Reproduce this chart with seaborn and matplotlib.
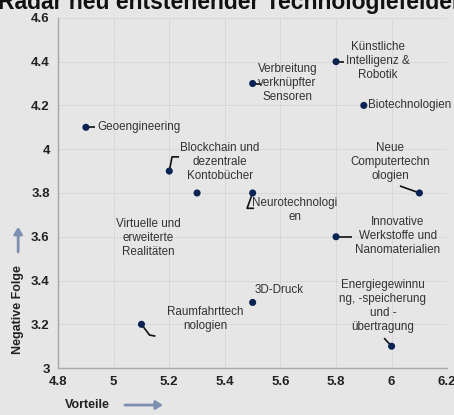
import matplotlib
matplotlib.use("Agg")
import matplotlib.pyplot as plt
import matplotlib.patches as mpatches
import seaborn as sns
import pandas as pd

# Data: technology fields (Vorteile vs. negative Folgen)
names = ["Geoengineering", "Blockchain", "Virtuelle Realitäten", "Neurotechnologien",
         "Sensoren", "KI & Robotik", "Biotechnologien", "Computertechnologien",
         "Werkstoffe", "3D-Druck", "Energie", "Raumfahrt"]
vorteile = [4.9, 5.2, 5.3, 5.5, 5.5, 5.8, 5.9, 6.1, 5.8, 5.5, 6.0, 5.1]
folgen = [4.1, 3.9, 3.8, 3.8, 4.3, 4.4, 4.2, 3.8, 3.6, 3.3, 3.1, 3.2]
labels = ["Geoengineering", "Blockchain und\ndezentrale\nKontobücher",
          "Virtuelle und\nerweiterte\nRealitäten", "Neurotechnologi\nen",
          "Verbreitung\nverknüpfter\nSensoren", "Künstliche\nIntelligenz &\nRobotik",
          "Biotechnologien", "Neue\nComputertechn\nologien",
          "Innovative\nWerkstoffe und\nNanomaterialien", "3D-Druck",
          "Energiegewinnu\nng, -speicherung\nund -\nübertragung",
          "Raumfahrttech\nnologien"]
label_x = [4.94, 5.383, 5.124, 5.652, 5.625, 5.951, 5.916, 5.994, 6.023, 5.595, 5.969, 5.329]
label_y = [4.1, 3.94, 3.594, 3.722, 4.303, 4.403, 4.2, 3.94, 3.603, 3.357, 3.283, 3.224]
label_ha = ["left", "center", "center", "center", "center", "center", "left",
            "center", "center", "center", "center", "center"]
# leader lines (from point to label), None = no leader
leaders = [
    [(4.9, 4.1), (4.933, 4.1)],
    [(5.2, 3.9), (5.21, 3.965), (5.235, 3.965)],
    None,
    [(5.5, 3.8), (5.48, 3.73), (5.505, 3.73)],
    [(5.5, 4.3), (5.53, 4.3)],
    [(5.8, 4.4), (5.83, 4.4)],
    None,
    [(6.1, 3.8), (6.03, 3.832)],
    [(5.8, 3.6), (5.858, 3.6)],
    None,
    [(6.0, 3.1), (5.973, 3.137)],
    [(5.1, 3.2), (5.129, 3.151), (5.15, 3.146)],
]
xticks = [4.8, 5, 5.2, 5.4, 5.6, 5.8, 6, 6.2]
yticks = [3, 3.2, 3.4, 3.6, 3.8, 4, 4.2, 4.4, 4.6]

df = pd.DataFrame({"name": names, "x": vorteile, "y": folgen})

sns.set_style("white")
plt.rcParams["font.family"] = ["Liberation Sans", "DejaVu Sans"]
bg = "#e6e6e6"

fig = plt.figure(figsize=(4.54, 4.15), dpi=100, facecolor=bg)
ax = fig.add_axes([0.128, 0.113, 0.857, 0.844])
ax.set_facecolor(bg)

ax.set_xlim(4.8, 6.2)
ax.set_ylim(3, 4.6)
ax.set_xticks(xticks)
ax.set_yticks(yticks)
ax.set_xticklabels([f"{t:g}" for t in xticks], fontweight="bold", fontsize=9.5,
                   color="#222222")
ax.set_yticklabels([f"{t:g}" for t in yticks], fontweight="bold", fontsize=9.5,
                   color="#222222")
ax.tick_params(length=0, pad=6)
ax.grid(True, color="#d2d2d2", linestyle=(0, (2, 1)), linewidth=0.7)
for s in ["top", "right"]:
    ax.spines[s].set_visible(False)
for s in ["left", "bottom"]:
    ax.spines[s].set_color("#a8a8a8")
    ax.spines[s].set_linewidth(1.0)

for path in leaders:
    if path is not None:
        ax.plot([p[0] for p in path], [p[1] for p in path], color="#111111",
                lw=1.2, zorder=2, solid_capstyle="butt")

sns.scatterplot(data=df, x="x", y="y", ax=ax, color="#0b2353", s=26,
                edgecolor="none", zorder=3)
ax.set_xlabel("")
ax.set_ylabel("")

for i in range(len(names)):
    ax.text(label_x[i], label_y[i], labels[i], ha=label_ha[i], va="center",
            fontsize=8.4, color="#333333", linespacing=1.24, zorder=4)

# axis titles with arrows
fig.text(0.04, 0.253, "Negative Folge", rotation=90, ha="center", va="center",
         fontweight="bold", fontsize=9, color="#222222")
fig.text(0.143, 0.024, "Vorteile", ha="left", va="center",
         fontweight="bold", fontsize=9, color="#222222")
fig.patches.append(mpatches.FancyArrowPatch(
    (0.04, 0.386), (0.04, 0.46), transform=fig.transFigure,
    arrowstyle="-|>,head_length=4,head_width=2.5", color="#7d8fb0", lw=2))
fig.patches.append(mpatches.FancyArrowPatch(
    (0.269, 0.024), (0.365, 0.024), transform=fig.transFigure,
    arrowstyle="-|>,head_length=4,head_width=2.5", color="#7d8fb0", lw=2))

fig.text(-0.004, 0.978, "Radar neu entstehender Technologiefelder", ha="left",
         va="baseline", fontweight="bold", fontsize=16.5, color="#111111")

fig.savefig("out.png", dpi=100, facecolor=bg)
